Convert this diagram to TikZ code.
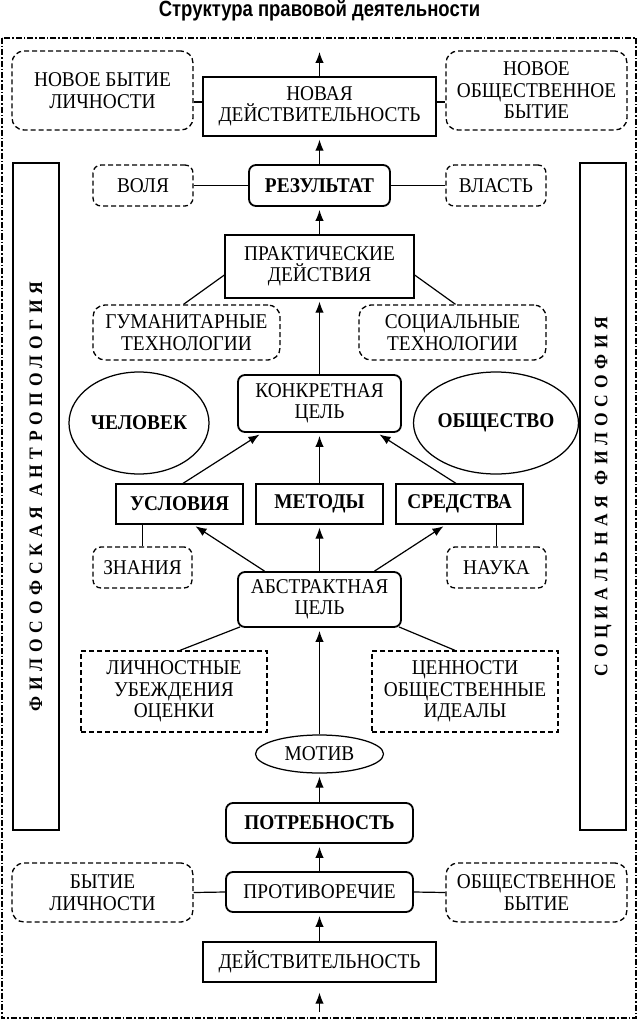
\documentclass[tikz,border=0pt]{standalone}
\usepackage{fontspec}
\setmainfont[FakeStretch=0.92]{Liberation Serif}
\newfontfamily\titlefont[FakeStretch=0.84]{Liberation Sans}
\newfontfamily\sidefont[FakeStretch=0.92,LetterSpace=30]{Liberation Serif}
\usetikzlibrary{arrows.meta,shapes.geometric}
\newcommand{\bodyfnt}{\fontsize{21}{21.5}\selectfont}
\tikzset{
  base/.style={inner sep=0pt, align=center, font=\bodyfnt},
  box/.style={base, draw, line width=1.25pt, rectangle},
  rbox/.style={base, draw, line width=1.8pt, rounded corners=7pt},
  dbox/.style={base, draw, line width=1.3pt, dash pattern=on 5pt off 3pt, rounded corners=12pt},
  dsbox/.style={base, draw, line width=1.3pt, dash pattern=on 5pt off 3pt},
  ell/.style={base, draw, ellipse, line width=1.25pt},
  sidebox/.style={draw, line width=1.25pt, inner sep=0pt},
  sidetext/.style={rotate=90, inner sep=0pt, font=\sidefont\bfseries\fontsize{19}{22}\selectfont},
  arr/.style={-{Latex[length=11pt,width=8.5pt]}, line width=1.2pt, shorten >=3pt},
  ln/.style={line width=1.2pt},
  frame/.style={line width=1.4pt, dash pattern=on 6pt off 2pt on 1.5pt off 2pt},
}
\begin{document}
\begin{tikzpicture}[x=1pt,y=-1pt]
\useasboundingbox (0,0) rectangle (638,1024);
% title
\node[inner sep=0pt, font=\titlefont\bfseries\fontsize{22}{26}\selectfont] (title) at (319.5,11) {Структура правовой деятельности};
% outer frame
\draw[frame] (2,38) rectangle (636,1018);

% top row
\node[dbox, minimum width=181pt, minimum height=79pt] (nbl) at (102.5,90.5) {НОВОЕ БЫТИЕ\\ЛИЧНОСТИ};
\node[box, minimum width=233pt, minimum height=59pt] (nd) at (319.5,106.5) {НОВАЯ\\ДЕЙСТВИТЕЛЬНОСТЬ};
\node[dbox, minimum width=181pt, minimum height=79pt] (nob) at (536.5,90.5) {НОВОЕ\\ОБЩЕСТВЕННОЕ\\БЫТИЕ};
\coordinate (top) at (319.5,49);

% result row
\node[dbox, rounded corners=8pt, minimum width=100pt, minimum height=41pt] (voly) at (143,185.5) {ВОЛЯ};
\node[rbox, minimum width=141pt, minimum height=41pt, font=\bodyfnt\bfseries] (rez) at (319.5,185.5) {РЕЗУЛЬТАТ};
\node[dbox, rounded corners=8pt, minimum width=100pt, minimum height=41pt] (vlast) at (496,185.5) {ВЛАСТЬ};

% side boxes
\node[sidebox, minimum width=46pt, minimum height=667pt] (lside) at (36,496.5) {};
\node[sidebox, minimum width=46pt, minimum height=667pt] (rside) at (603,496.5) {};
\node[sidetext] (ltext) at (lside.center) {ФИЛОСОФСКАЯ АНТРОПОЛОГИЯ};
\node[sidetext] (rtext) at (rside.center) {СОЦИАЛЬНАЯ ФИЛОСОФИЯ};

% practical actions
\node[box, minimum width=189pt, minimum height=63pt] (pd) at (319.5,266.5) {ПРАКТИЧЕСКИЕ\\ДЕЙСТВИЯ};
\node[dbox, minimum width=187pt, minimum height=55pt] (gt) at (186.5,332.5) {ГУМАНИТАРНЫЕ\\ТЕХНОЛОГИИ};
\node[dbox, minimum width=187pt, minimum height=55pt] (st) at (452.5,332.5) {СОЦИАЛЬНЫЕ\\ТЕХНОЛОГИИ};

% concrete goal
\node[rbox, minimum width=163pt, minimum height=57pt] (kc) at (319.5,403.5) {КОНКРЕТНАЯ\\ЦЕЛЬ};
\node[ell, minimum width=140pt, minimum height=102pt, font=\bodyfnt\bfseries] (chel) at (139,423) {ЧЕЛОВЕК};
\node[ell, minimum width=140pt, minimum height=102pt, font=\bodyfnt\bfseries] (obsh) at (496,423) {ОБЩЕСТВО};

% conditions, methods, means
\node[box, minimum width=127pt, minimum height=40pt, font=\bodyfnt\bfseries] (usl) at (179.5,504) {УСЛОВИЯ};
\node[box, minimum width=127pt, minimum height=40pt, font=\bodyfnt\bfseries] (met) at (319.5,504) {МЕТОДЫ};
\node[box, minimum width=127pt, minimum height=40pt, font=\bodyfnt\bfseries] (sred) at (459.5,504) {СРЕДСТВА};
\node[dbox, rounded corners=8pt, minimum width=99pt, minimum height=41pt] (zn) at (142.5,567.5) {ЗНАНИЯ};
\node[dbox, rounded corners=8pt, minimum width=99pt, minimum height=41pt] (nauka) at (496.5,567.5) {НАУКА};

% abstract goal
\node[rbox, minimum width=163pt, minimum height=55pt] (ac) at (319.5,599.5) {АБСТРАКТНАЯ\\ЦЕЛЬ};
\node[dsbox, minimum width=186pt, minimum height=81pt] (luo) at (174,691.5) {ЛИЧНОСТНЫЕ\\УБЕЖДЕНИЯ\\ОЦЕНКИ};
\node[dsbox, minimum width=186pt, minimum height=81pt] (coi) at (465,691.5) {ЦЕННОСТИ\\ОБЩЕСТВЕННЫЕ\\ИДЕАЛЫ};

% motive, need, contradiction, reality
\node[ell, minimum width=128pt, minimum height=38pt] (motiv) at (319.5,754) {МОТИВ};
\node[rbox, minimum width=187pt, minimum height=40pt, font=\bodyfnt\bfseries] (potr) at (319.5,823) {ПОТРЕБНОСТЬ};
\node[rbox, minimum width=187pt, minimum height=40pt] (prot) at (319.5,892) {ПРОТИВОРЕЧИЕ};
\node[dbox, minimum width=181pt, minimum height=59pt] (bl) at (102.5,892.5) {БЫТИЕ\\ЛИЧНОСТИ};
\node[dbox, minimum width=181pt, minimum height=59pt] (ob) at (536.5,892.5) {ОБЩЕСТВЕННОЕ\\БЫТИЕ};
\node[box, minimum width=233pt, minimum height=40pt] (dejst) at (319.5,962) {ДЕЙСТВИТЕЛЬНОСТЬ};
\coordinate (bot) at (319.5,1012);

% connectors
\draw[arr] (nd.north) -- (top);
\draw[ln] ([yshift=4.5pt]nd.west) -- ([yshift=4.5pt]nd.west -| nbl.east);
\draw[ln] ([yshift=4.5pt]nd.east) -- ([yshift=4.5pt]nd.east -| nob.west);
\draw[arr] (rez.north) -- (nd.south);
\draw[ln] (voly.east) -- (rez.west);
\draw[ln] (rez.east) -- (vlast.west);
\draw[arr] (pd.north) -- (rez.south);
\draw[ln] ([yshift=-8.5pt]pd.west) -- ([xshift=-3pt]gt.north);
\draw[ln] ([yshift=-8.5pt]pd.east) -- ([xshift=3pt]st.north);
\draw[arr] (kc.north) -- (pd.south);
\draw[arr] ([xshift=3.5pt]usl.north) -- ([xshift=-57.5pt]kc.south);
\draw[arr] (met.north) -- (kc.south);
\draw[arr] ([xshift=-3.5pt]sred.north) -- ([xshift=57.5pt]kc.south);
\draw[ln] (usl.south -| zn.north) -- (zn.north);
\draw[ln] (sred.south -| nauka.north) -- (nauka.north);
\draw[arr] ([xshift=-55pt]ac.north) -- ([xshift=13.5pt]usl.south);
\draw[arr] (ac.north) -- (met.south);
\draw[arr] ([xshift=55pt]ac.north) -- ([xshift=-13.5pt]sred.south);
\draw[ln] ([xshift=3pt,yshift=1pt]ac.south west) -- ([xshift=6pt]luo.north);
\draw[ln] ([xshift=-3pt,yshift=1pt]ac.south east) -- ([xshift=-10pt]coi.north);
\draw[arr] (motiv.north) -- (ac.south);
\draw[arr] (potr.north) -- (motiv.south);
\draw[arr] (prot.north) -- (potr.south);
\draw[ln] (bl.east) -- (prot.west);
\draw[ln] (prot.east) -- (ob.west);
\draw[arr] (dejst.north) -- (prot.south);
\draw[arr, shorten >=10pt] (bot) -- (dejst.south);
\end{tikzpicture}
\end{document}
